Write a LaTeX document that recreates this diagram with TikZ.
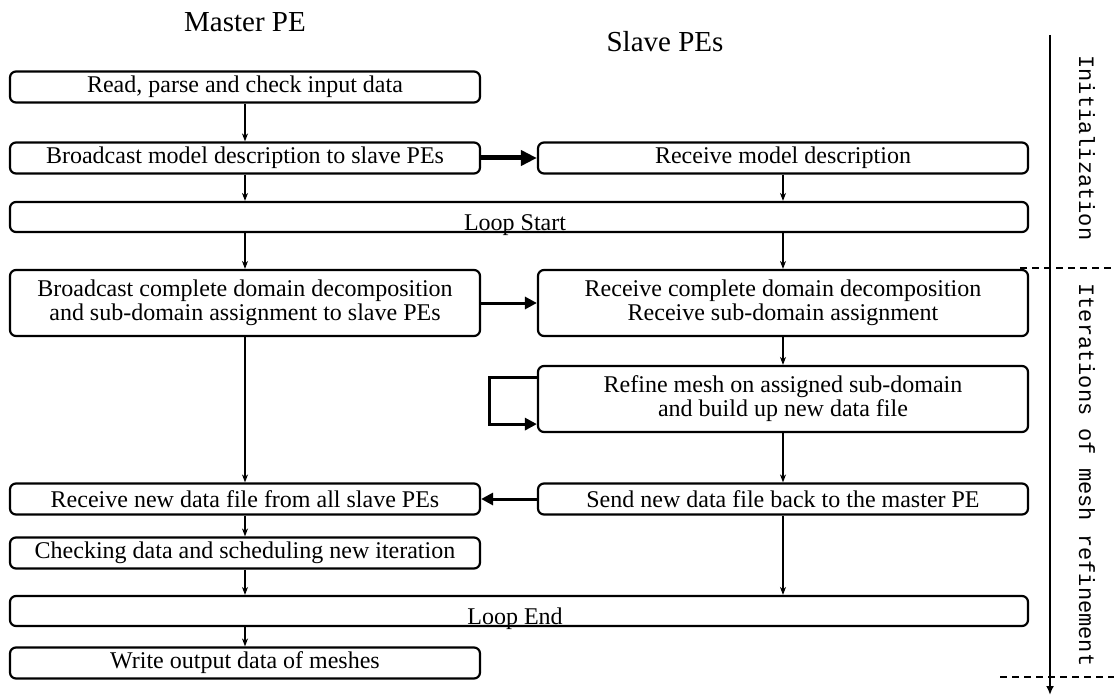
\documentclass[tikz,border=0pt]{standalone}
\usepackage{fontspec}
\setmainfont{Liberation Serif}
\newfontfamily\sidefont{Liberation Mono}
\usetikzlibrary{arrows.meta}
\begin{document}
\begin{tikzpicture}[x=1pt,y=-1pt,
  box/.style={draw, line width=2.2pt, rounded corners=6pt, inner sep=0pt,
    align=center, font=\fontsize{24}{24}\selectfont},
  lbox/.style={box, minimum width=470pt, minimum height=31pt},
  rbox/.style={box, minimum width=490pt, minimum height=31pt},
  loopbar/.style={box, minimum width=1018pt, minimum height=30pt},
  barlabel/.style={anchor=base, inner sep=0pt, font=\fontsize{24}{24}\selectfont},
  flow/.style={line width=1.5pt, -{Stealth[length=8pt,width=6pt]}},
  msg/.style={line width=3pt, -{Triangle[length=12pt,width=12pt]}},
  bigmsg/.style={line width=5pt, -{Triangle[length=16pt,width=15pt]}},
  phase/.style={line width=1.6pt, dash pattern=on 7pt off 5pt},
  title/.style={font=\fontsize{29}{29}\selectfont},
  side/.style={font=\sidefont\fontsize{22}{22}\selectfont, rotate=-90}]
\useasboundingbox (0,0) rectangle (1114,698);

% column headings
\node[title] (mtitle) at (245,22) {Master PE};
\node[title] (stitle) at (665,42) {Slave PEs};

% master column
\node[lbox] (b1) at (245,87)  {Read, parse and check input data};
\node[lbox] (b2) at (245,158) {Broadcast model description to slave PEs};
\node[lbox, minimum height=66pt] (b3) at (245,303)
  {Broadcast complete domain decomposition\\and sub-domain assignment to slave PEs};
\node[lbox] (b5) at (245,499) {Receive new data file from all slave PEs};
\node[lbox] (b6) at (245,553) {Checking data and scheduling new iteration};
\node[lbox] (b7) at (245,663) {Write output data of meshes};

% slave column
\node[rbox] (s2) at (783,158) {Receive model description};
\node[rbox, minimum height=66pt] (s3) at (783,303)
  {Receive complete domain decomposition\\Receive sub-domain assignment};
\node[rbox, minimum height=66pt] (s4) at (783,399)
  {Refine mesh on assigned sub-domain\\and build up new data file};
\node[rbox] (s5) at (783,499) {Send new data file back to the master PE};

% loop bars spanning both columns
\node[loopbar] (ls) at (519,217) {};
\node[barlabel] (lsl) at (515,230) {Loop Start};
\node[loopbar] (le) at (519,611) {};
\node[barlabel] (lel) at (515,624) {Loop End};

% control flow
\draw[flow] (b1) -- (b2);
\draw[flow] (b2.south) -- (b2.south |- ls.north);
\draw[flow] (s2.south) -- (s2.south |- ls.north);
\draw[flow] (b3.north |- ls.south) -- (b3.north);
\draw[flow] (s3.north |- ls.south) -- (s3.north);
\draw[flow] (b3) -- (b5);
\draw[flow] (s3) -- (s4);
\draw[flow] (s4) -- (s5);
\draw[flow] (b5) -- (b6);
\draw[flow] (b6.south) -- (b6.south |- le.north);
\draw[flow] (s5.south) -- (s5.south |- le.north);
\draw[flow] (b7.north |- le.south) -- (b7.north);

% messages between master and slaves
\draw[bigmsg] (b2) -- (s2);
\draw[msg] (b3) -- (s3);
\draw[msg] (s5) -- (b5);
\draw[msg] ([yshift=-13pt]s4.north west) -- ++(-47,0) |- ([yshift=9pt]s4.south west);

% phase axis
\coordinate (tltop) at (1050,35);
\coordinate (tlbot) at (1050,695);
\draw[line width=2pt, -{Latex[length=9pt,width=8pt]}] (tltop) -- (tlbot);
\coordinate (d1a) at (1020,268);
\coordinate (d1b) at (1114,268);
\coordinate (d2a) at (1000,677);
\coordinate (d2b) at (1114,677);
\draw[phase] (d1a) -- (d1b);
\draw[phase] (d2a) -- (d2b);
\node[side] (init) at (1087,148) {Initialization};
\node[side] (iter) at (1087,475) {Iterations of mesh refinement};
\end{tikzpicture}
\end{document}
